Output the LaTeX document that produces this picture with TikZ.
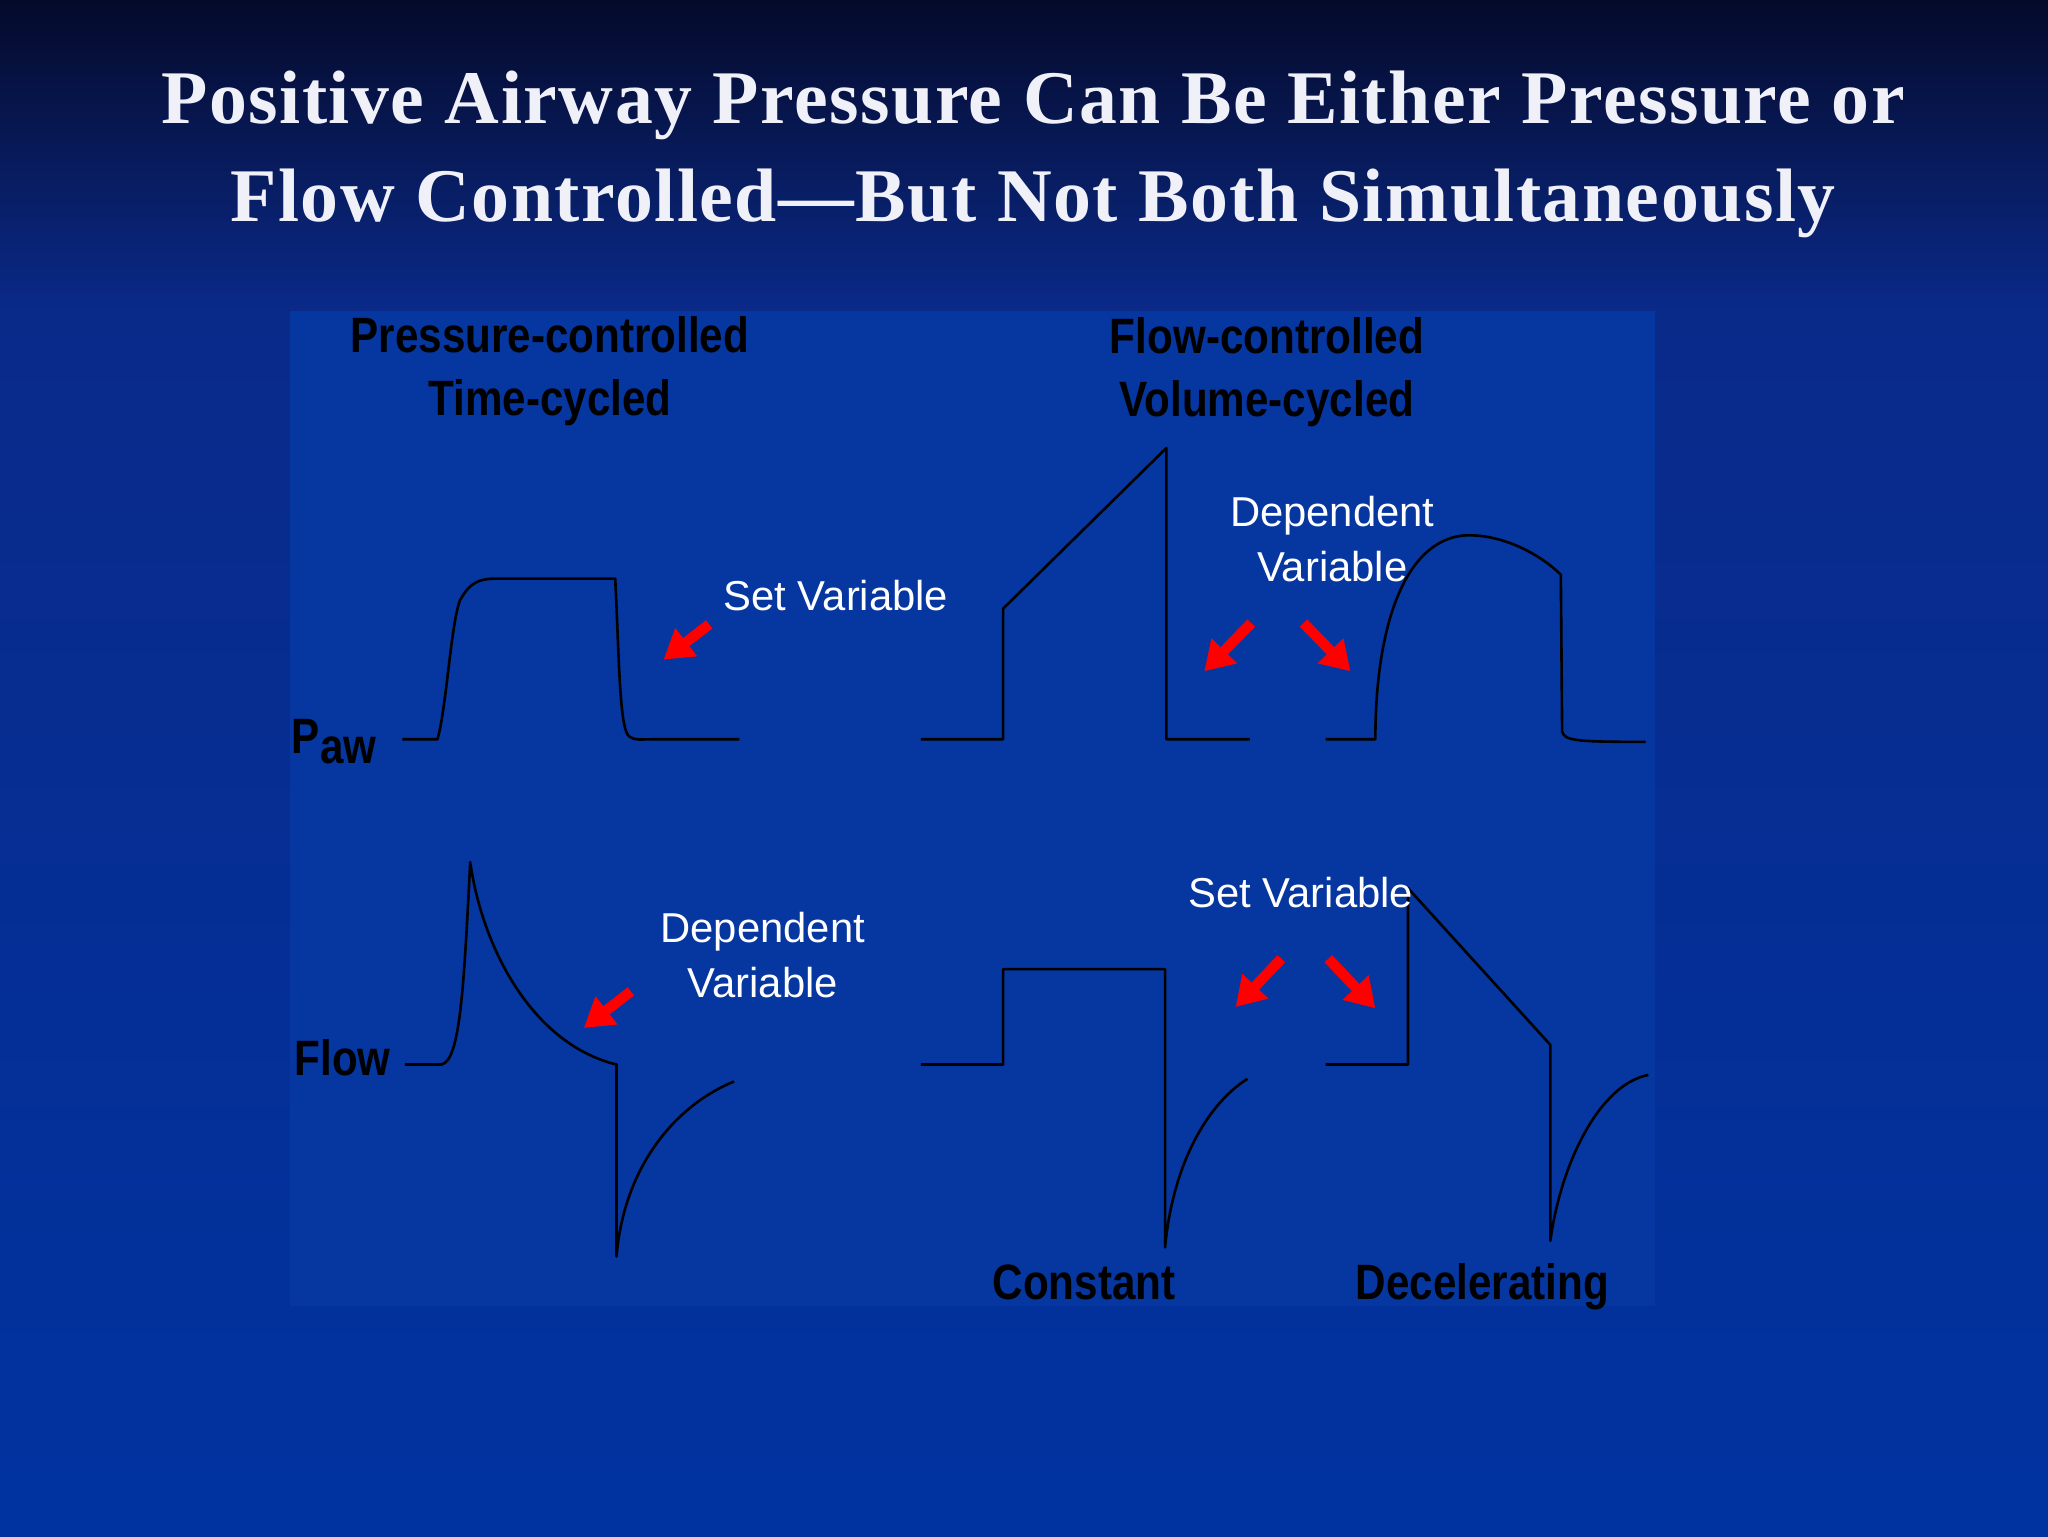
\documentclass[tikz,border=0pt]{standalone}
\usepackage{fontspec}
\setmainfont{Liberation Serif}
\newfontfamily\lsans{Liberation Sans}
\newfontfamily\nsans[FakeStretch=0.85]{Liberation Sans}
\usetikzlibrary{arrows.meta}
\definecolor{bgtop}{HTML}{050A2A}
\definecolor{bgmid}{HTML}{0A2A8A}
\definecolor{bgbot}{HTML}{0033A0}
\definecolor{panel}{HTML}{0636A0}
\definecolor{ttl}{HTML}{F0F0F8}
\tikzset{
  wave/.style={line width=2pt,black,line join=round},
  blk/.style={font=\fontsize{38}{48}\selectfont\bfseries\nsans,black,align=center},
  wht/.style={font=\fontsize{32}{42}\selectfont\lsans,white,align=center},
  redarr/.style={line width=8pt,red,-{Triangle[length=22pt,width=26pt]}},
  ttlsty/.style={font=\fontsize{58}{75}\selectfont\bfseries,align=center,text=ttl}
}
\begin{document}
\begin{tikzpicture}[x=1pt,y=-1pt]
\useasboundingbox (0,0) rectangle (1568,1176);
\shade[top color=bgtop,bottom color=bgmid] (0,0) rectangle (1568,240);
\shade[top color=bgmid,bottom color=bgbot] (0,240) rectangle (1568,1176);
\fill[panel] (222,238) rectangle (1267,1000);
\node[ttlsty] (title) at (791,118) {\addfontfeatures{LetterSpace=2}Positive Airway Pressure Can Be Either Pressure or\\\addfontfeatures{LetterSpace=2}Flow Controlled---But Not Both Simultaneously};
% labels
\node[blk] (pc) at (421,284) {Pressure-controlled\\Time-cycled};
\node[blk] (fc) at (970,285) {Flow-controlled\\Volume-cycled};
\node[blk,anchor=west] (paw) at (220,568) {P\raisebox{-8pt}{aw}};
\node[blk,anchor=west] (flow) at (222,810) {Flow};
\node[blk] (const) at (830,982) {Constant};
\node[blk] (dec) at (1135,985) {Decelerating};
% waves
\draw[wave] (308,566) -- (335,566) .. controls (342,540) and (345,480) .. (352,460) .. controls (360,445) and (368,443) .. (380,443) -- (471,443) .. controls (474,500) and (474,560) .. (482,564) .. controls (486,567) and (490,566) .. (500,566) -- (566,566);
\draw[wave] (310,815) -- (338,815) .. controls (352,812) and (355,760) .. (360,660) .. controls (370,730) and (410,800) .. (472,815) -- (472,962) .. controls (478,890) and (520,845) .. (562,828);
\draw[wave] (705,566) -- (768,566) -- (768,466) -- (893,343) -- (893,566) -- (957,566);
\draw[wave] (1015,566) -- (1053,566) .. controls (1053,480) and (1075,415) .. (1120,410) .. controls (1150,408) and (1180,425) .. (1195,440) -- (1196,560) .. controls (1198,567) and (1205,568) .. (1260,568);
\draw[wave] (705,815) -- (768,815) -- (768,742) -- (892,742) -- (892,955) .. controls (898,890) and (925,845) .. (955,826);
\draw[wave] (1015,815) -- (1078,815) -- (1078,680) -- (1187,800) -- (1187,950) .. controls (1195,890) and (1225,830) .. (1262,823);
% white labels
\node[wht] (sv1) at (640,456) {Set Variable};
\node[wht] (dv1) at (1020,413) {Dependent\\Variable};
\node[wht] (dv2) at (584,731) {Dependent\\Variable};
\node[wht] (sv2) at (996,683) {Set Variable};
% red arrows
\coordinate (a1s) at (543,478); \coordinate (a1e) at (508,505);
\coordinate (a2s) at (958,477); \coordinate (a2e) at (922,514);
\coordinate (a3s) at (998,477); \coordinate (a3e) at (1034,514);
\coordinate (a4s) at (483,759); \coordinate (a4e) at (447,787);
\coordinate (a5s) at (981,734); \coordinate (a5e) at (946,771);
\coordinate (a6s) at (1017,734); \coordinate (a6e) at (1053,772);
\foreach \i in {1,...,6} \draw[redarr] (a\i s) -- (a\i e);
\end{tikzpicture}
\end{document}
